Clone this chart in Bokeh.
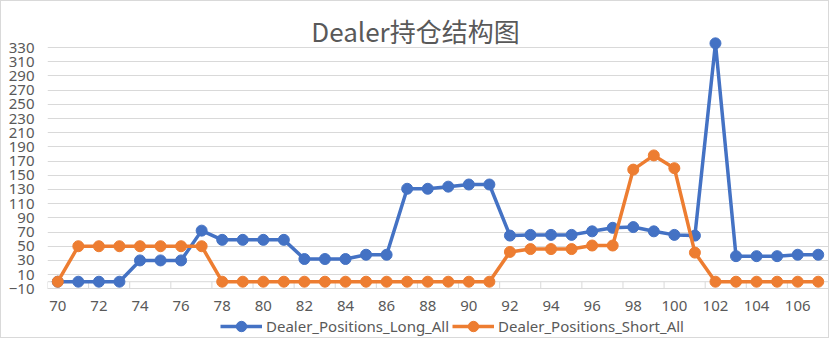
from bokeh.plotting import figure
from bokeh.models import FixedTicker, Legend, LegendItem, Range1d, ColumnDataSource, Label
from bokeh.embed import file_html
from bokeh.resources import INLINE

# ---- data ----
categories = list(range(70, 108))
long_all = [0, 0, 0, 0, 30, 30, 30, 72, 59, 59, 59, 59, 32, 32, 32, 38, 38,
            131, 131, 134, 137, 137, 65, 66, 66, 66, 71, 76, 77, 71, 66, 65,
            336, 36, 36, 36, 38, 38]
short_all = [0, 50, 50, 50, 50, 50, 50, 50, 0, 0, 0, 0, 0, 0, 0, 0, 0,
             0, 0, 0, 0, 0, 42, 46, 46, 46, 51, 51, 158, 178, 160, 41,
             0, 0, 0, 0, 0, 0]
y_ticks = list(range(-10, 331, 20))
x_ticks = categories[::2]
series_names = ["Dealer_Positions_Long_All", "Dealer_Positions_Short_All"]
title_text = "Dealer持仓结构图"

BLUE = "#4472C4"
ORANGE = "#ED7D31"
TXT = "#595959"
GRID = "#d9d9d9"
FONT = "Noto Sans"

# layout (canvas px, inside a 1px border); the frame fills the canvas height
W, H = 829, 338
TOP_PX = 39             # where the value 340 sits
AXIS_PX = 287.3         # where the value -10 sits
Y_MIN, Y_TOP = y_ticks[0], 340
scale = (AXIS_PX - TOP_PX) / (Y_TOP - Y_MIN)
y_start = Y_MIN - (H - AXIS_PX) / scale
y_end = Y_TOP + TOP_PX / scale

src = ColumnDataSource(dict(x=categories, long=long_all, short=short_all))

p = figure(width=W, height=H,
           x_range=Range1d(categories[0] - 0.5, categories[-1] + 0.5),
           y_range=Range1d(y_start, y_end),
           output_backend="svg", toolbar_location=None,
           min_border_left=46, min_border_right=2, min_border_top=0,
           min_border_bottom=0,
           styles={"border": "1px solid #d9d9d9"})

p.outline_line_color = None
p.background_fill_color = "white"
p.border_fill_color = "white"

# y axis
p.yaxis.ticker = FixedTicker(ticks=y_ticks)
p.yaxis.axis_line_color = None
p.yaxis.major_tick_line_color = None
p.yaxis.minor_tick_line_color = None
p.yaxis.major_label_text_font = FONT
p.yaxis.major_label_text_font_size = "15px"
p.yaxis.major_label_text_color = TXT
p.yaxis.major_label_standoff = 7

# x axis (labels only), pinned at the bottom gridline
p.xaxis.fixed_location = Y_MIN
p.xaxis.ticker = FixedTicker(ticks=x_ticks)
p.xaxis.axis_line_color = None
p.xaxis.major_tick_line_color = None
p.xaxis.minor_tick_line_color = None
p.xaxis.major_label_text_font = FONT
p.xaxis.major_label_text_font_size = "15px"
p.xaxis.major_label_text_color = TXT
p.xaxis.major_label_standoff = 6

p.xgrid.grid_line_color = None
p.ygrid.ticker = FixedTicker(ticks=y_ticks)
p.ygrid.grid_line_color = GRID
p.ygrid.grid_line_width = 1

# category axis line at 0 with boundary ticks down to the bottom gridline
bounds = [c - 0.5 for c in categories[::2]] + [categories[-1] + 0.5]
p.segment(x0=[bounds[0]], y0=[0], x1=[bounds[-1]], y1=[0],
          line_color=GRID, line_width=1)
p.segment(x0=bounds, y0=[0] * len(bounds), x1=bounds, y1=[Y_MIN] * len(bounds),
          line_color=GRID, line_width=1)

l1 = p.line("x", "long", source=src, line_color=BLUE, line_width=3.5)
s1 = p.scatter("x", "long", source=src, size=11, fill_color=BLUE, line_color=BLUE)
l2 = p.line("x", "short", source=src, line_color=ORANGE, line_width=3.5)
s2 = p.scatter("x", "short", source=src, size=11, fill_color=ORANGE, line_color=ORANGE)

# chart title (screen px from the frame's bottom-left)
p.add_layout(Label(x=368, y=H - 29, x_units="screen", y_units="screen",
                   text=title_text, text_align="center",
                   text_baseline="alphabetic", text_font="Noto Sans CJK SC",
                   text_font_size="26px", text_color=TXT))

legend = Legend(items=[LegendItem(label=series_names[0], renderers=[l1, s1]),
                       LegendItem(label=series_names[1], renderers=[l2, s2])],
                orientation="horizontal", location=(173, 0),
                border_line_color=None, background_fill_alpha=0,
                label_text_font=FONT, label_text_font_size="15px",
                label_text_color=TXT, glyph_width=42, glyph_height=26,
                label_standoff=4, spacing=3, padding=0, margin=0)
p.add_layout(legend, "center")

open("out.html", "w").write(file_html(p, INLINE))
